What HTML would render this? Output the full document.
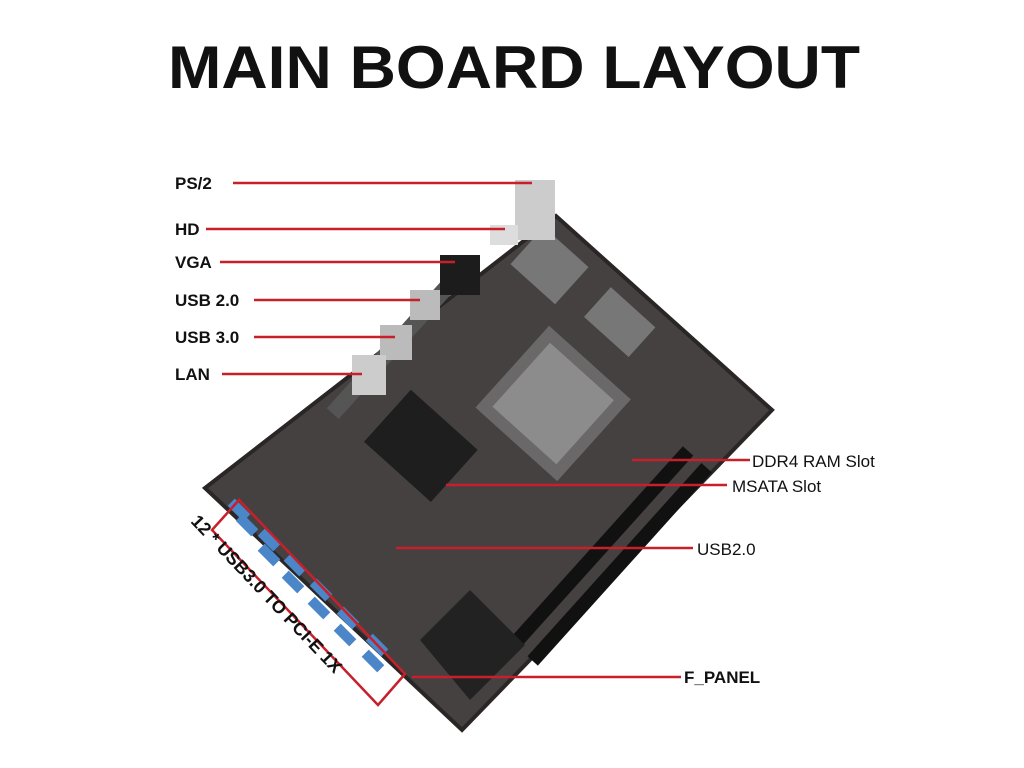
<!DOCTYPE html>
<html><head><meta charset="utf-8"><style>
body{margin:0;background:#fff;width:1024px;height:768px;overflow:hidden}
svg{display:block}
</style></head><body>
<svg width="1024" height="768" viewBox="0 0 1024 768" font-family="Liberation Sans, sans-serif">
<rect width="1024" height="768" fill="#fff"/>
<text x="168" y="88" textLength="692" lengthAdjust="spacingAndGlyphs" font-size="60" font-weight="bold" fill="#111">MAIN BOARD LAYOUT</text>
<!-- board -->
<polygon points="556,216 772,410 462,730 205,488" fill="#464141"/>
<polygon points="556,216 772,410 462,730 205,488" fill="none" stroke="#2a2626" stroke-width="4"/>
<g transform="rotate(42 500 470)">
 <rect x="440" y="330" width="110" height="110" fill="#6a6868"/>
 <rect x="452" y="342" width="86" height="86" fill="#8d8c8c"/>
 <rect x="620" y="330" width="14" height="260" fill="#111"/>
 <rect x="645" y="330" width="14" height="260" fill="#111"/>
 <rect x="380" y="470" width="90" height="70" fill="#1e1e1e"/>
 <rect x="330" y="340" width="16" height="200" fill="#555"/>
 <rect x="370" y="260" width="60" height="50" fill="#777"/>
 <rect x="460" y="260" width="60" height="40" fill="#777"/>
</g>
<!-- back IO -->
<rect x="515" y="180" width="40" height="60" fill="#ccc"/>
<rect x="490" y="225" width="28" height="20" fill="#ddd"/>
<rect x="440" y="255" width="40" height="40" fill="#1c1c1c"/>
<rect x="410" y="290" width="30" height="30" fill="#bbb"/>
<rect x="380" y="325" width="32" height="35" fill="#bbb"/>
<rect x="352" y="355" width="34" height="40" fill="#ccc"/>
<!-- heatsink -->
<polygon points="420,640 470,590 525,645 470,700" fill="#222"/>
<!-- usb blue -->
<g fill="#4a86c8">
 <rect x="228" y="505" width="22" height="10" transform="rotate(45 239 510)"/>
 <rect x="236" y="520" width="22" height="10" transform="rotate(45 247 525)"/>
 <rect x="258" y="535" width="22" height="10" transform="rotate(45 269 540)"/>
 <rect x="258" y="550" width="22" height="10" transform="rotate(45 269 555)"/>
 <rect x="284" y="560" width="22" height="10" transform="rotate(45 295 565)"/>
 <rect x="282" y="577" width="22" height="10" transform="rotate(45 293 582)"/>
 <rect x="310" y="585" width="22" height="10" transform="rotate(45 321 590)"/>
 <rect x="308" y="603" width="22" height="10" transform="rotate(45 319 608)"/>
 <rect x="337" y="613" width="22" height="10" transform="rotate(45 348 618)"/>
 <rect x="334" y="630" width="22" height="10" transform="rotate(45 345 635)"/>
 <rect x="366" y="640" width="22" height="10" transform="rotate(45 377 645)"/>
 <rect x="362" y="656" width="22" height="10" transform="rotate(45 373 661)"/>
</g>
<polygon points="212,530 239,500 405,674 378,705" fill="none" stroke="#c8202a" stroke-width="2.5"/>
<text transform="translate(190,522) rotate(46.5)" font-size="18" font-weight="bold" fill="#111">12 * USB3.0 TO PCI-E 1X</text>
<!-- lines -->
<g stroke="#c8202a" stroke-width="2.5">
 <line x1="233" y1="183" x2="532" y2="183"/>
 <line x1="206" y1="229" x2="505" y2="229"/>
 <line x1="220" y1="262" x2="455" y2="262"/>
 <line x1="254" y1="300" x2="420" y2="300"/>
 <line x1="254" y1="337" x2="395" y2="337"/>
 <line x1="222" y1="374" x2="362" y2="374"/>
 <line x1="632" y1="460" x2="750" y2="460"/>
 <line x1="446" y1="485" x2="727" y2="485"/>
 <line x1="396" y1="548" x2="693" y2="548"/>
 <line x1="412" y1="677" x2="681" y2="677"/>
</g>
<g font-size="17" font-weight="bold" fill="#111">
 <text x="175" y="189">PS/2</text>
 <text x="175" y="235">HD</text>
 <text x="175" y="268">VGA</text>
 <text x="175" y="306">USB 2.0</text>
 <text x="175" y="343">USB 3.0</text>
 <text x="175" y="380">LAN</text>
 <text x="684" y="683">F_PANEL</text>
</g>
<g font-size="17" fill="#111">
 <text x="752" y="467">DDR4 RAM Slot</text>
 <text x="732" y="492">MSATA Slot</text>
 <text x="697" y="555">USB2.0</text>
</g>
</svg>
</body></html>
